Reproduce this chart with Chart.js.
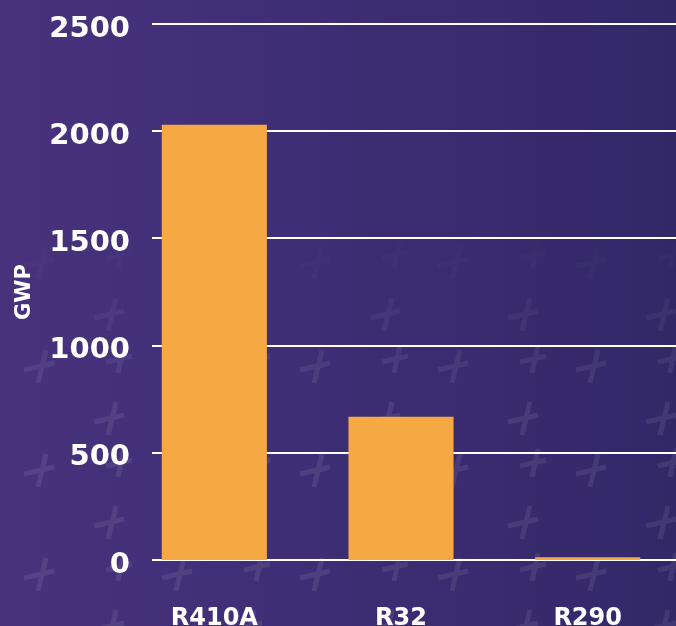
<!DOCTYPE html>
<html><head><meta charset="utf-8">
<script src="https://cdn.jsdelivr.net/npm/chart.js@4.4.1/dist/chart.umd.min.js"></script>
<style>
html,body{margin:0;padding:0;width:676px;height:626px;overflow:hidden;}
body{background:linear-gradient(90deg,#48327c 0%,#3e2e75 45%,#322868 100%);position:relative;}
#bg{position:absolute;left:0;top:0;}
#wrap{position:absolute;left:0;top:0;width:720px;height:640px;}
</style></head>
<body>
<svg id="bg" width="676" height="626">
 <defs>
  <pattern id="p" width="138" height="104" patternUnits="userSpaceOnUse" x="10" y="20">
    <g stroke="#fff" stroke-width="5" fill="none">
      <path d="M14 38 l30 -7 M36 18 l-8 33"/>
      <path d="M84 90 l30 -7 M106 70 l-8 33"/>
      <path d="M96 30 l26 -6 M114 13 l-6 28"/>
    </g>
  </pattern>
  <linearGradient id="fade" x1="0" y1="0" x2="0" y2="1">
    <stop offset="0.36" stop-color="#fff" stop-opacity="0"/>
    <stop offset="0.62" stop-color="#fff" stop-opacity="1"/>
  </linearGradient>
  <mask id="m"><rect width="676" height="626" fill="url(#fade)"/></mask>
 </defs>
 <rect width="676" height="626" fill="url(#p)" opacity="0.08" mask="url(#m)"/>
</svg>
<div id="wrap"><canvas id="c" width="720" height="640"></canvas></div>
<script>
const categories = ['R410A', 'R32', 'R290'];
const gwpValues = [2030, 668, 13];
const yMin = 0, yMax = 2500, yStep = 500;
const axisTitle = 'GWP';

const gridPlugin = {
  id: 'customGrid',
  beforeDatasetsDraw(chart) {
    const {ctx, chartArea, scales: {y}} = chart;
    ctx.save();
    ctx.strokeStyle = '#ffffff';
    ctx.lineWidth = 2;
    y.ticks.forEach(t => {
      const py = Math.round(y.getPixelForValue(t.value));
      ctx.beginPath();
      ctx.moveTo(chartArea.left + 31, py);
      ctx.lineTo(chartArea.right, py);
      ctx.stroke();
    });
    ctx.restore();
  }
};

new Chart(document.getElementById('c'), {
  type: 'bar',
  data: {
    labels: categories,
    datasets: [{
      data: gwpValues,
      backgroundColor: '#F6A942',
      borderWidth: 0,
      barPercentage: 0.563,
      categoryPercentage: 1
    }]
  },
  options: {
    responsive: false,
    animation: false,
    devicePixelRatio: 1,
    layout: {padding: {top: 24, right: 39, bottom: 14, left: 0}},
    plugins: {legend: {display: false}, tooltip: {enabled: false}},
    scales: {
      x: {
        grid: {display: false},
        border: {display: false},
        ticks: {color: '#ffffff', font: {family: 'DejaVu Sans', weight: 'bold', size: 24}, padding: 36},
        afterFit(s) { s.height = 66; }
      },
      y: {
        min: yMin, max: yMax,
        grid: {display: false},
        border: {display: false},
        ticks: {
          stepSize: yStep, color: '#ffffff',
          font: {family: 'DejaVu Sans', weight: 'bold', size: 29, lineHeight: '10px'},
          padding: -17,
          callback: v => ['', String(v)]
        },
        title: {display: true, text: axisTitle, color: '#ffffff', font: {family: 'DejaVu Sans', weight: 'bold', size: 21}, padding: {top: 12, bottom: 0}},
        afterFit(s) { s.width = 121; s._computeLabelArea = () => undefined; }
      }
    }
  },
  plugins: [gridPlugin]
});
</script>
</body></html>
